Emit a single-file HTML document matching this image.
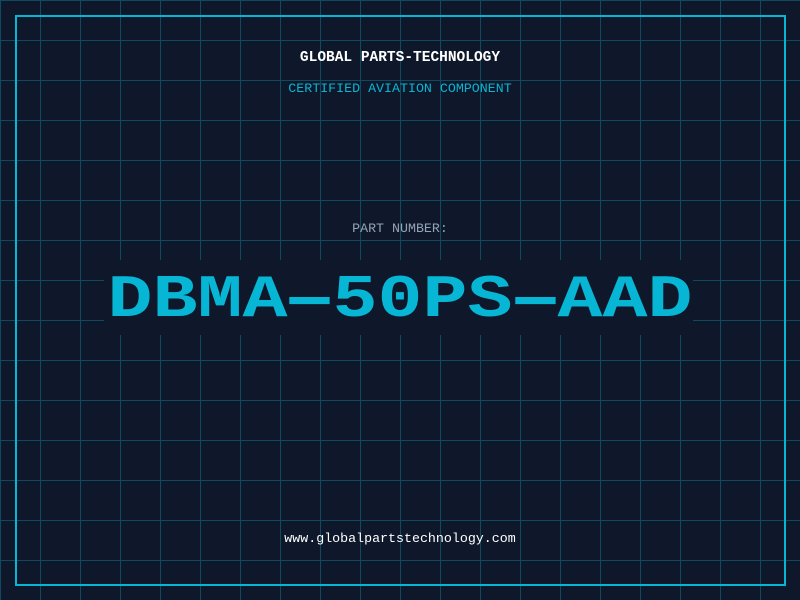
<!DOCTYPE html>
<html><head><meta charset="utf-8"><style>
html,body{margin:0;padding:0}
body{width:800px;height:600px;position:relative;overflow:hidden;background:#0f172a;
background-image:linear-gradient(to right,#0e4a60 1px,transparent 1px),linear-gradient(to bottom,#0e4a60 1px,transparent 1px);
background-size:40px 40px;background-position:0 0;font-family:"Liberation Mono",monospace}
.frame{position:absolute;left:15px;top:15px;width:767px;height:567px;border:2px solid #06b6d4}
.t{position:absolute;left:0;width:800px;text-align:center;white-space:pre}
.box{position:absolute;left:104px;top:260px;width:589px;height:75px;background:#0f172a}
.h{display:inline-block;transform:scaleX(1.9)}
</style></head><body>
<div class="frame"></div>
<div class="t" style="top:50px;font-size:14.5px;font-weight:bold;color:#fff">GLOBAL PARTS-TECHNOLOGY</div>
<div class="t" style="top:81px;font-size:13.3px;color:#06b6d4">CERTIFIED AVIATION COMPONENT</div>
<div class="t" style="top:221px;font-size:13.3px;color:#94a3b8">PART NUMBER:</div>
<div class="box"></div>
<div class="t" style="top:258px;height:85px;font-size:75px;line-height:85px;font-weight:bold;color:#06b6d4;transform:scaleY(0.8);transform-origin:50% 50%">DBMA<span class="h">-</span>50PS<span class="h">-</span>AAD</div>
<div class="t" style="top:531px;font-size:13.3px;color:#fff">www.globalpartstechnology.com</div>
</body></html>
